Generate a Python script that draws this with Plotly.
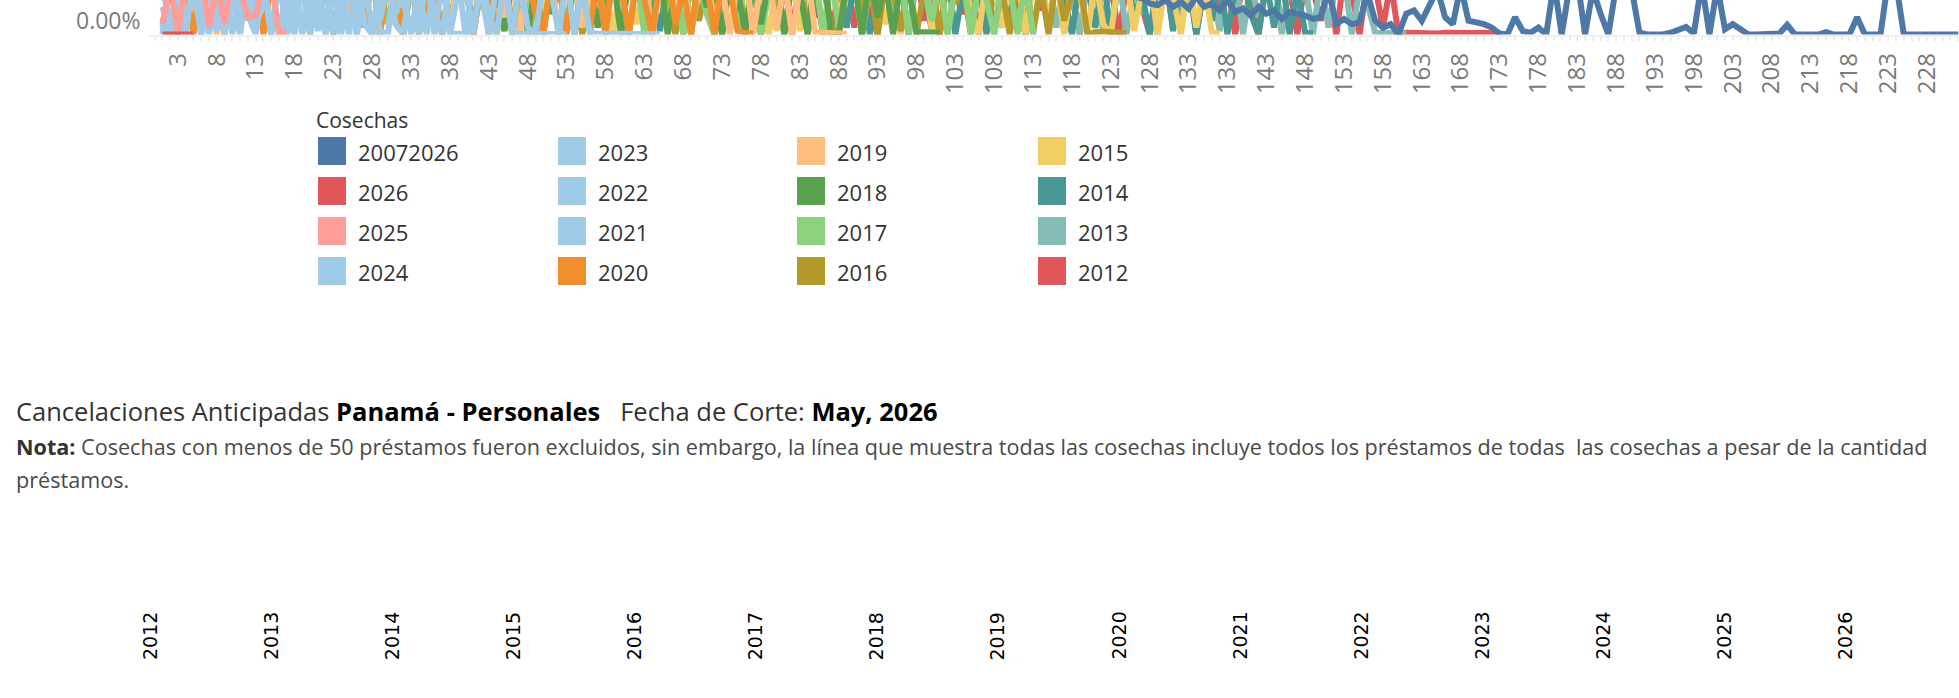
import plotly.graph_objects as go

W, H = 1959, 698

# ---------------- data (units: band top of the visible pane = 10) ----------------
harvests = ["20072026", "2026", "2025", "2024", "2023", "2022", "2021", "2020",
            "2019", "2018", "2017", "2016", "2015", "2014", "2013", "2012"]
colors = ["#4e79a7", "#e15759", "#ff9d9a", "#a0cbe8", "#a0cbe8", "#a0cbe8", "#a0cbe8", "#f28e2b",
          "#ffbe7d", "#59a14f", "#8cd17d", "#b6992d", "#f1ce63", "#499894", "#86bcb6", "#e15759"]

s_all = [21, 27, 18, 24, 30, 19, 25, 22, 28, 17,
         23, 29, 20, 26, 16, 24, 31, 19, 22, 27,
         18, 25, 21, 28, 17, 23, 26, 20, 29, 19,
         24, 16, 22, 27, 18, 25, 21, 30, 17, 23,
         26, 19, 22, 28, 16, 24, 20, 27, 18, 25,
         21, 29, 17, 23, 26, 19, 24, 16, 22, 28,
         18, 25, 20, 27, 17, 23, 21, 26, 15, 24,
         19, 22, 28, 16, 25, 18, 23, 20, 27, 17,
         24, 15, 21, 26, 18, 22, 14, 25, 19, 23,
         16, 20, 24, 15, 22, 18, 13, 21, 17, 19,
         14, 23, 16, 20, 13, 18, 15, 21, 14, 17,
         13, 19, 15, 16, 12, 18, 14, 13, 16, 12,
         15, 13, 12,
         14, 12, 11, 10.5, 9, 8.5, 10, 8, 9.5, 7.5,
         11, 8, 9, 7, 10, 6.5, 7.5, 5.5, 8, 6,
         7, 4.5, 6.5, 6, 5.5, 4.5, 5, 13, 3, 4.5,
         3, 3.5, 12, 4, 2, 3, 0, 6, 7, 4,
         8.5, 13, 5, 3, 14, 4, 3.5, 3, 2, 0.3,
         0, 5, 1, 0.5, 2, 0, 15, 0, 14, 16,
         0, 13, 6, 0, 14, 15, 13, 0.5, 0, 0,
         0, 0.5, 1.5, 2.2, 0.3, 15, 0, 14, 1.5, 3,
         1.5, 0, 0, 0, 0, 0.3, 2.8, 0, 0, 0,
         0, 0.7, 0, 0, 0, 5, 0, 0, 0, 16,
         15, 0, 0, 0, 0, 0, 0, 0, 0]

s_2026 = [0, 0, 0, 0, 0]

s_2025 = [3, 14, 0, 16, 12, 17, 2, 15, 3, 18, 13, 5, 5.5, 15, 17, 0, 0.5]

s_2024 = [8, 0, 16, 3, 14, 0, 17, 1, 12, 6, 16, 6, 0, 15, 18, 0, 12, 2, 16, 4,
          14, 17, 0, 4, 15, 0, 17, 0.3, 0.2]

s_2023 = [0, 15, 7, 0, 17, 12, 0, 16, 1, 13, 0, 18, 3, 9, 15, 17, 0, 9, 14, 0,
          17, 2, 13, 0, 16, 5, 14, 18, 1, 0, 16, 11, 0, 14, 17, 0, 15, 0.3, 0.2, 0.4,
          0.2]

s_2022 = [13, 4, 0, 16, 14, 0, 18, 2, 15, 0, 12, 17, 7, 15, 0, 16, 6, 0, 18, 13,
          1, 16, 0, 14, 17, 0, 11, 16, 4, 15, 3, 0, 17, 13, 0, 16, 18, 0, 12, 15,
          0, 17, 5, 0, 16, 0.4, 0.3, 0.2, 0.3, 0.2, 0.3, 0.2, 0.1]

s_2021 = [2, 16, 0, 14, 18, 0, 12, 17, 0, 15, 5, 8, 17, 15, 0, 16, 1, 13, 0, 18,
          10, 0, 16, 14, 0, 17, 3, 0, 15, 17, 6, 13, 16, 0, 18, 7, 0, 15, 17, 0,
          16, 12, 0, 14, 17, 0, 16, 2, 0, 15, 13, 0, 17, 0, 14, 0.4, 0.3, 0.3, 0.2, 0.3,
          0.2, 0.2, 0.3, 0.2, 0.1]

s_2020 = [5, 0, 15, 13, 0, 17, 9, 14, 0, 18,
          3, 13, 16, 0, 15, 17, 1, 12, 16, 0,
          18, 14, 0, 17, 12, 15, 2, 17, 0, 16,
          13, 0, 15, 18, 4, 14, 0, 16, 11, 18,
          0, 16, 13, 1, 17, 0, 15, 17, 6, 0,
          16, 14, 0, 17, 12, 2, 15, 0, 18, 14,
          0, 16, 10, 0, 16, 18, 3, 13, 0, 17,
          15, 0, 16, 13, 1, 0.4, 0.3]

s_2019 = [20, 28, 17, 24, 2, 15, 17, 0, 16, 13,
          18, 4, 16, 12, 0, 17, 15, 18, 1, 14,
          16, 0, 16, 18, 6, 13, 17, 0, 15, 17,
          3, 14, 16, 0, 18, 12, 16, 1, 17, 15,
          0, 16, 14, 18, 5, 16, 0, 17, 13, 15,
          17, 0, 15, 16, 2, 12, 17, 0, 16, 14,
          1, 17, 18, 0, 13, 16, 7, 17, 0, 15,
          17, 3, 14, 0, 16, 18, 0, 15, 17, 1,
          16, 0, 13, 17, 0.3, 0.5, 0.4, 0.3, 0.2]

s_2018 = [24, 31, 19, 27, 22, 35, 26, 18, 29, 21,
          33, 25, 20, 28, 23, 30, 17, 26, 32, 13,
          2, 16, 0, 15, 17, 11, 16, 18, 13, 17,
          16, 15, 18, 0, 16, 14, 17, 3, 16, 18,
          0, 14, 17, 12, 1, 16, 18, 0, 15, 17,
          6, 13, 16, 0, 15, 17, 2, 14, 16, 0,
          16, 12, 18, 1, 17, 0, 14, 16, 0, 17,
          8, 15, 0, 16, 13, 0, 17, 3, 15, 17,
          0, 16, 12, 0, 16, 18, 1, 0, 14, 16,
          0, 17, 5, 15, 0, 16, 13, 0.7, 0.6, 0.5,
          0.5]

s_2017 = [29, 23, 34, 20, 27, 31, 18, 25, 33, 22,
          28, 19, 26, 32, 24, 21, 30, 17, 27, 35,
          23, 29, 20, 26, 31, 18, 28, 24, 14, 3,
          16, 0, 14, 17, 9, 15, 0, 16, 12, 18,
          1, 14, 16, 0, 15, 17, 5, 12, 0, 16,
          16, 18, 2, 13, 16, 0, 15, 11, 18, 1,
          14, 17, 0, 16, 13, 3, 17, 0, 15, 16,
          6, 0, 17, 14, 1, 16, 18, 0, 12, 15,
          0, 16, 8, 14, 17, 0, 16, 2, 13, 17,
          0, 15, 12, 17, 1, 16, 0, 18, 13, 4,
          16, 0, 14, 17, 0, 15, 10, 0, 16, 14,
          0, 16, 0.5]

s_2016 = [26, 33, 21, 29, 24, 18, 31, 27, 22, 35,
          19, 28, 25, 32, 20, 26, 30, 23, 17, 29,
          34, 22, 27, 19, 31, 25, 20, 28, 24, 33,
          18, 26, 30, 23, 29, 21, 27, 16, 15, 12,
          3, 16, 0, 13, 17, 1, 18, 8, 15, 0,
          16, 14, 2, 17, 0, 12, 16, 5, 18, 14,
          0, 16, 15, 1, 17, 10, 0, 16, 18, 4,
          13, 16, 0, 15, 17, 2, 14, 0, 17, 11,
          1, 16, 18, 0, 14, 16, 3, 0, 16, 17,
          6, 15, 0, 16, 12, 1, 18, 0, 13, 16,
          0, 17, 9, 14, 0, 17, 15, 2, 13, 0,
          16, 16, 1, 14, 0, 17, 4, 12, 15, 0,
          0.7, 0.9, 0.6, 0.5, 0.4]

s_2015 = [31, 24, 19, 28, 35, 22, 27, 18, 33, 26,
          21, 29, 25, 32, 17, 30, 23, 27, 20, 34,
          26, 19, 31, 24, 28, 22, 33, 18, 25, 29,
          23, 30, 20, 27, 35, 21, 26, 32, 17, 16,
          13, 17, 2, 15, 17, 0, 16, 14, 18, 4,
          15, 0, 17, 11, 18, 1, 16, 13, 0, 17,
          16, 3, 14, 0, 16, 12, 18, 0, 15, 6,
          17, 13, 0, 16, 15, 2, 18, 9, 0, 16,
          14, 17, 1, 12, 18, 0, 16, 5, 14, 17,
          0, 15, 16, 3, 13, 0, 18, 12, 16, 1,
          17, 0, 14, 17, 7, 0, 16, 13, 2, 15,
          17, 0, 14, 16, 4, 17, 0, 15, 12, 0,
          16, 3, 0, 16, 17, 1, 13, 17, 0, 14,
          11, 0, 16, 2, 15, 0.5, 0.3]

s_2014 = [28, 21, 33, 25, 19, 30, 24, 35, 20, 27,
          23, 31, 18, 26, 29, 22, 34, 19, 28, 25,
          32, 20, 27, 24, 17, 30, 23, 29, 21, 33,
          26, 19, 31, 22, 28, 25, 18, 32, 24, 20,
          30, 27, 21, 34, 23, 19, 29, 26, 22, 31,
          18, 28, 24, 33, 20, 27, 25, 30, 19, 23,
          16, 14, 17, 12, 1, 16, 18, 0, 15, 9,
          17, 0, 13, 16, 3, 18, 14, 0, 16, 11,
          1, 15, 17, 6, 13, 0, 16, 18, 2, 14,
          16, 0, 12, 17, 4, 15, 0, 17, 12, 1,
          16, 18, 0, 13, 8, 16, 0, 14, 17, 3,
          13, 0, 16, 15, 1, 18, 11, 0, 16, 14,
          2, 17, 0, 15, 17, 5, 12, 0, 16, 18,
          1, 14, 16, 0, 15, 4, 17, 0, 13, 16,
          6, 0, 15, 2, 17, 0, 13, 0.5, 0.3]

s_2013 = [25, 19, 31, 27, 22, 34, 18, 29, 24, 21,
          30, 26, 17, 33, 23, 28, 20, 35, 25, 19,
          27, 32, 22, 18, 29, 24, 31, 20, 26, 34,
          21, 28, 25, 19, 33, 23, 30, 17, 27, 22,
          29, 24, 20, 32, 26, 18, 31, 23, 28, 21,
          25, 34, 19, 27, 22, 30, 24, 18, 29, 26,
          20, 33, 23, 28, 17, 25, 31, 21, 27, 19,
          30, 24, 22, 28, 18, 26, 32, 20, 25, 23,
          29, 17, 27, 21, 31, 24, 19, 14, 2, 16,
          0, 15, 11, 17, 3, 14, 0, 16, 18, 5,
          13, 0, 16, 15, 1, 12, 17, 0, 14, 16,
          4, 13, 0, 16, 18, 2, 15, 12, 0, 17,
          14, 1, 16, 18, 0, 13, 6, 16, 0, 15,
          17, 3, 14, 0, 16, 13, 1, 16, 17, 0,
          15, 5, 12, 17, 0, 16, 7, 14, 0, 16,
          2, 15, 17, 0, 13, 9, 0.5, 0.3, 0.4, 0.3,
          0.2]

s_2012 = [22, 30, 18, 27, 35, 24, 19, 31, 26, 21,
          28, 17, 33, 25, 20, 29, 36, 23, 18, 27,
          32, 24, 19, 26, 30, 21, 34, 25, 18, 28,
          23, 31, 20, 27, 35, 22, 29, 24, 19, 30,
          26, 33, 21, 28, 17, 25, 31, 22, 27, 20,
          29, 24, 32, 18, 26, 23, 30, 21, 27, 25,
          19, 28, 34, 22, 26, 31, 20, 24, 29, 17,
          27, 23, 30, 21, 25, 18, 28, 14, 16, 3,
          15, 0, 17, 14, 5, 16, 0, 12, 18, 2,
          15, 9, 0, 16, 13, 1, 16, 18, 4, 14,
          0, 17, 12, 6, 15, 0, 17, 13, 2, 16,
          14, 0, 18, 7, 14, 17, 1, 12, 0, 16,
          17, 3, 15, 0, 13, 16, 8, 0, 15, 17,
          2, 14, 16, 0, 13, 18, 5, 15, 0, 17,
          12, 0, 16, 18, 1, 14, 0, 16, 13, 4,
          15, 0, 17, 12, 0, 16, 14, 2, 15, 0,
          0.5, 0.4, 0.6, 0.5, 0.3, 0.5, 0.4, 0.6, 0.5, 0.4,
          0.5, 0.3, 0.2]

series = {"20072026": s_all, "2026": s_2026, "2025": s_2025, "2024": s_2024,
          "2023": s_2023, "2022": s_2022, "2021": s_2021, "2020": s_2020,
          "2019": s_2019, "2018": s_2018, "2017": s_2017, "2016": s_2016,
          "2015": s_2015, "2014": s_2014, "2013": s_2013, "2012": s_2012}

year_headers = ["2012", "2013", "2014", "2015", "2016", "2017", "2018", "2019",
                "2020", "2021", "2022", "2023", "2024", "2025", "2026"]

title_plain = "Cancelaciones Anticipadas "
title_bold1 = "Panamá - Personales"
title_mid = "\u00a0\u00a0 Fecha de Corte: "
title_bold2 = "May, 2026"
note_line1 = ("Cosechas con menos de 50 préstamos fueron excluidos, sin embargo, la línea que muestra "
              "todas las cosechas incluye todos los préstamos de todas \u00a0las cosechas a pesar de la cantidad")
note_line2 = "préstamos."


def px(p):
    return p / W


def py(p):
    return 1 - p / H


FONT = "Open Sans"
fig = go.Figure()

# draw oldest first, "all harvests" last (on top)
draw_order = list(reversed(harvests[1:])) + [harvests[0]]
for name in draw_order:
    vals = series[name]
    col = colors[harvests.index(name)]
    fig.add_trace(go.Scatter(
        x=list(range(1, len(vals) + 1)), y=vals, mode="lines", name=name,
        line=dict(color=col, width=6), hoverinfo="skip", showlegend=False))

fig.update_layout(
    width=W, height=H, margin=dict(l=0, r=0, t=0, b=0),
    paper_bgcolor="white", plot_bgcolor="white",
    xaxis=dict(domain=[px(148), 1], range=[-0.85, 232.1],
               tickmode="linear", tick0=3, dtick=5, tickangle=-90,
               tickfont=dict(family=FONT, size=24, color="#7a7a7a"),
               showline=True, linecolor="#efefef", linewidth=2,
               ticks="outside", ticklen=4, tickcolor="#ececec", tickwidth=2,
               minor=dict(dtick=1, tick0=0, ticks="outside", ticklen=4,
                          tickcolor="#ececec", tickwidth=2),
               ticklabelstandoff=3, showgrid=False, zeroline=False),
    yaxis=dict(domain=[py(34.5), 1], range=[0, 10], visible=False),
)

ann = []
ann.append(dict(x=px(143), y=py(20), xref="paper", yref="paper", xanchor="right", yanchor="middle",
                text="0.00%", showarrow=False, font=dict(family=FONT, size=23, color="#7a7a7a")))

# legend (Tableau-style colour legend, column-major)
ann.append(dict(x=px(314), y=py(120), xref="paper", yref="paper", xanchor="left", yanchor="middle",
                text="Cosechas", showarrow=False, font=dict(family=FONT, size=21, color="#333333")))
col_x = [318, 558, 797, 1038]
row_y = [151, 191, 231, 271]
shapes = []
for i, name in enumerate(harvests):
    cx = col_x[i // 4]
    cy = row_y[i % 4]
    shapes.append(dict(type="rect", xref="paper", yref="paper",
                       x0=px(cx), x1=px(cx + 28), y0=py(cy + 14), y1=py(cy - 14),
                       fillcolor=colors[i], line=dict(width=0)))
    ann.append(dict(x=px(cx + 38), y=py(cy + 1), xref="paper", yref="paper", xanchor="left",
                    yanchor="middle", text=name, showarrow=False,
                    font=dict(family=FONT, size=22, color="#333333")))

# title and note
ann.append(dict(x=px(14), y=py(411), xref="paper", yref="paper", xanchor="left", yanchor="middle",
                showarrow=False, font=dict(family=FONT, size=25.5, color="#333333"),
                text=(title_plain + "<span style='color:#000'><b>" + title_bold1 + "</b></span>"
                      + title_mid + "<span style='color:#000'><b>" + title_bold2 + "</b></span>")))
ann.append(dict(x=px(14), y=py(446), xref="paper", yref="paper", xanchor="left", yanchor="middle",
                showarrow=False, font=dict(family=FONT, size=21.6, color="#4a4a4a"),
                text="<span style='color:#333'><b>Nota:</b></span> " + note_line1))
ann.append(dict(x=px(14), y=py(480), xref="paper", yref="paper", xanchor="left", yanchor="middle",
                showarrow=False, font=dict(family=FONT, size=21.6, color="#4a4a4a"),
                text=note_line2))

# column headers of the lower view
for i, yr in enumerate(year_headers):
    ann.append(dict(x=px(150 + 121.07 * i), y=py(636), xref="paper", yref="paper",
                    xanchor="center", yanchor="middle", textangle=-90, showarrow=False,
                    text=yr, font=dict(family="DejaVu Sans", size=19, color="#000000")))

fig.update_layout(annotations=ann, shapes=shapes)

fig.write_html("out.html", config={"displayModeBar": False},
               post_script="document.body.style.margin='0';")
